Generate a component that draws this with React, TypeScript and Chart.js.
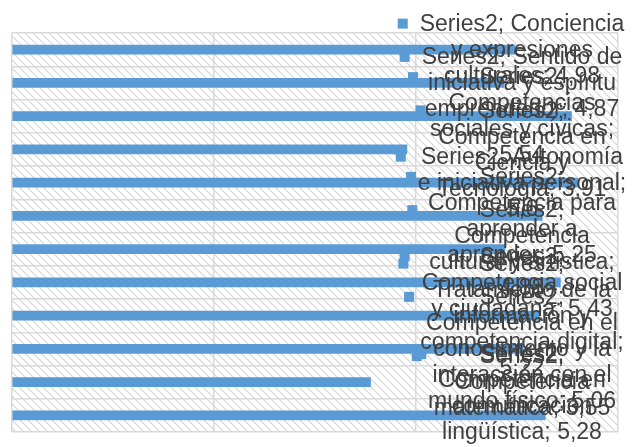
import React, { useEffect, useRef } from "react";
import { Chart, registerables } from "chart.js";

Chart.register(...registerables);

// Categories in the order of the source sheet (first = bottom row)
const categories: string[] = [
  "Competencia en comunicación lingüística",
  "Competencia matemática",
  "Competencia en el conocimiento y la interacción con el mundo físico",
  "Tratamiento de la información y competencia digital",
  "Competencia social y ciudadana",
  "Competencia cultural y artística",
  "Competencia para aprender a aprender",
  "Autonomía e iniciativa personal",
  "Competencia en Ciencia y Tecnología",
  "Competencias sociales y cívicas",
  "Sentido de iniciativa y espíritu emprendedor",
  "Conciencia y expresiones culturales",
];

const seriesName = "Series2";
const series2Values: number[] = [5.28, 3.55, 5.06, 5.22, 5.43, 4.88, 5.25, 5.6, 3.91, 5.54, 4.87, 4.98];

const xTicks: number[] = [0, 2, 4, 6];

const BAR_COLOR = "#5b9bd5";
const TEXT_COLOR = "#404040";
const GRID_COLOR = "#d9d9d9";
const LABEL_FONT = "23px 'Liberation Sans', Arial, sans-serif";
const LINE_H = 26;
const WRAP_W = 211;

function fmt(v: number): string {
  return String(v).replace(".", ",");
}

function wrap(ctx: CanvasRenderingContext2D, text: string, maxW: number): string[] {
  const words = text.split(" ");
  const lines: string[] = [];
  let cur = "";
  for (const w of words) {
    const test = cur ? cur + " " + w : w;
    if (ctx.measureText(test).width <= maxW || !cur) {
      cur = test;
    } else {
      lines.push(cur);
      cur = w;
    }
  }
  if (cur) lines.push(cur);
  return lines;
}

const hatchPlugin = {
  id: "hatchBg",
  beforeDraw(chart: any) {
    const { ctx, chartArea } = chart;
    if (!chartArea) return;
    const tile = document.createElement("canvas");
    tile.width = 8;
    tile.height = 8;
    const t = tile.getContext("2d")!;
    t.fillStyle = "#ffffff";
    t.fillRect(0, 0, 8, 8);
    t.strokeStyle = "#d6d6d6";
    t.lineWidth = 1.2;
    t.beginPath();
    t.moveTo(-1, -1);
    t.lineTo(9, 9);
    t.moveTo(-1, 7);
    t.lineTo(1, 9);
    t.moveTo(7, -1);
    t.lineTo(9, 1);
    t.stroke();
    const pat = ctx.createPattern(tile, "repeat");
    ctx.save();
    ctx.fillStyle = pat;
    ctx.fillRect(chartArea.left, chartArea.top, chartArea.right - chartArea.left, chartArea.bottom - chartArea.top);
    ctx.restore();
  },
};

const labelPlugin = {
  id: "wrappedLabels",
  afterDatasetsDraw(chart: any) {
    const { ctx, chartArea } = chart;
    const meta = chart.getDatasetMeta(0);
    const H = chart.height;
    ctx.save();
    ctx.font = LABEL_FONT;
    ctx.textBaseline = "middle";
    ctx.textAlign = "center";
    meta.data.forEach((bar: any, i: number) => {
      const text = `${seriesName}; ${categories[i]}; ${fmt(series2Values[i])}`;
      const lines = wrap(ctx, text, WRAP_W);
      const maxW = Math.max(...lines.map((l) => ctx.measureText(l).width));
      let cx = chartArea.right - 96;
      const rightLimit = chartArea.right + 9;
      if (cx + maxW / 2 > rightLimit) cx = rightLimit - maxW / 2;
      const blockH = lines.length * LINE_H;
      let top = bar.y - blockH / 2;
      if (top < 4) top = 4;
      if (top + blockH > H - 2) top = H - 2 - blockH;
      const left = cx - maxW / 2;
      // legend key
      ctx.fillStyle = BAR_COLOR;
      ctx.fillRect(left - 22, top + LINE_H / 2 - 5, 10, 10);
      ctx.fillStyle = TEXT_COLOR;
      lines.forEach((l, k) => {
        ctx.fillText(l, cx, top + LINE_H / 2 + k * LINE_H + 1);
      });
    });
    ctx.restore();
  },
};

export default function App() {
  const ref = useRef<HTMLCanvasElement | null>(null);
  useEffect(() => {
    if (!ref.current) return;
    const chart = new Chart(ref.current, {
      type: "bar",
      data: {
        labels: categories,
        datasets: [
          {
            label: seriesName,
            data: series2Values,
            backgroundColor: BAR_COLOR,
            borderWidth: 0,
            barThickness: 9,
          },
        ],
      },
      options: {
        indexAxis: "y",
        animation: false,
        responsive: false,
        devicePixelRatio: 1,
        layout: { padding: { left: 12, top: 33, right: 22, bottom: 15 } },
        plugins: {
          legend: { display: false },
          tooltip: { enabled: false },
        },
        scales: {
          x: {
            type: "linear",
            min: xTicks[0],
            max: xTicks[xTicks.length - 1],
            afterBuildTicks: (s: any) => {
              s.ticks = xTicks.map((v) => ({ value: v }));
            },
            ticks: { display: false },
            grid: { color: GRID_COLOR, lineWidth: 1.5, drawTicks: false },
            border: { display: false },
            afterFit: (s: any) => {
              s.height = 0;
            },
          },
          y: {
            type: "category",
            reverse: true,
            ticks: { display: false },
            grid: { color: GRID_COLOR, lineWidth: 1.5, drawTicks: false, offset: true },
            border: { display: false },
            afterFit: (s: any) => {
              s.width = 0;
            },
          },
        },
      },
      plugins: [hatchPlugin, labelPlugin],
    } as any);
    return () => chart.destroy();
  }, []);
  return (
    <div style={{ position: "fixed", left: 0, top: 0, width: 640, height: 447, background: "#fff" }}>
      <canvas ref={ref} width={640} height={447} style={{ display: "block", width: 640, height: 447 }} />
    </div>
  );
}
